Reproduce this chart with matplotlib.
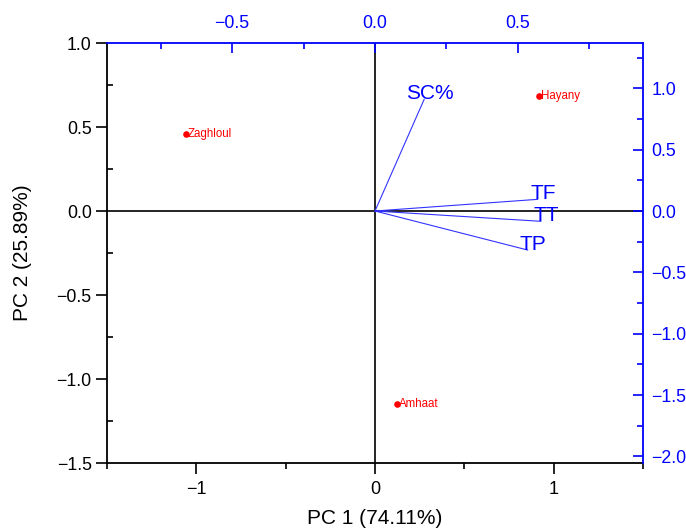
import matplotlib
matplotlib.use("Agg")
import matplotlib.pyplot as plt
from matplotlib.ticker import MultipleLocator, FixedLocator, FuncFormatter

plt.rcParams['font.family'] = ['Liberation Sans', 'DejaVu Sans']
plt.rcParams['axes.unicode_minus'] = True

# Scores (bottom/left axes)
sample_names = ["Hayany", "Zaghloul", "Amhaat"]
score_pc1 = [0.92, -1.058, 0.125]
score_pc2 = [0.685, 0.458, -1.149]

# Loadings (top/right axes)
var_names = ["SC%", "TF", "TT", "TP"]
load_pc1 = [0.172, 0.569, 0.580, 0.534]
load_pc2 = [0.910, 0.095, -0.084, -0.318]

x_label = "PC 1 (74.11%)"
y_label = "PC 2 (25.89%)"

fmt1 = FuncFormatter(lambda v, p: f"{v:.1f}".replace('-', '\u2212'))

fig = plt.figure(figsize=(6.86, 5.28), dpi=100)
pos = [107/686, 1-463/528, (643-107)/686, (463-43)/528]
ax = fig.add_axes(pos)
ax.set_xlim(-1.5, 1.5)
ax.set_ylim(-1.5, 1.0)

ax.axhline(0, color='black', lw=1.2, zorder=1)
ax.axvline(0, color='black', lw=1.2, zorder=1)

ax.scatter(score_pc1, score_pc2, s=14, color='red', zorder=3)
for n, x, y in zip(sample_names, score_pc1, score_pc2):
    ax.annotate(n, (x, y), xytext=(1.5, 0), textcoords='offset points',
                ha='left', va='center', fontsize=8.3, color='red')

ax.set_xlabel(x_label, fontsize=15, labelpad=8)
ax.set_ylabel(y_label, fontsize=15, labelpad=18)
ax.xaxis.set_major_locator(FixedLocator([-1, 0, 1]))
ax.xaxis.set_minor_locator(FixedLocator([-1.5, -0.5, 0.5, 1.5]))
ax.yaxis.set_major_locator(MultipleLocator(0.5))
ax.yaxis.set_minor_locator(MultipleLocator(0.25))
ax.yaxis.set_major_formatter(fmt1)
ax.tick_params(axis='x', which='major', direction='out', length=8, width=1.2, labelsize=13, pad=5)
ax.tick_params(axis='x', which='minor', direction='out', length=4, width=1.2)
ax.tick_params(axis='y', which='major', direction='out', length=8, width=1.2, labelsize=12.8, pad=3)
ax.tick_params(axis='y', which='minor', direction='in', length=4, width=1.2)
for s in ['left', 'bottom']:
    ax.spines[s].set_linewidth(1.3)
    ax.spines[s].set_color('black')
ax.spines['top'].set_visible(False)
ax.spines['right'].set_visible(False)

# Secondary axes for loadings
ax2 = fig.add_axes(pos)
ax2.patch.set_visible(False)
xr = 1.5 / 1.6
yr = 1.369
ax2.set_xlim(-xr, xr)
ax2.set_ylim(-1.5 * yr, 1.0 * yr)
ax2.xaxis.tick_top()
ax2.yaxis.tick_right()
ax2.xaxis.set_major_locator(MultipleLocator(0.5))
ax2.xaxis.set_minor_locator(MultipleLocator(0.25))
ax2.yaxis.set_major_locator(MultipleLocator(0.5))
ax2.yaxis.set_minor_locator(MultipleLocator(0.25))
ax2.xaxis.set_major_formatter(fmt1)
ax2.yaxis.set_major_formatter(fmt1)
ax2.tick_params(axis='both', which='major', direction='in', length=7, width=1.2,
                colors='blue', labelsize=12.8, labelcolor='blue')
ax2.tick_params(axis='both', which='minor', direction='in', length=4, width=1.2, colors='blue')
ax2.tick_params(axis='x', which='major', pad=8)
ax2.tick_params(axis='y', which='major', pad=6)
for s in ['top', 'right']:
    ax2.spines[s].set_color('blue')
    ax2.spines[s].set_linewidth(1.3)
for s in ['left', 'bottom']:
    ax2.spines[s].set_visible(False)

for n, x, y in zip(var_names, load_pc1, load_pc2):
    ax2.plot([0, x], [0, y], color='#3333ff', lw=0.8, zorder=2)
    ax2.annotate(n, (x, y), xytext=(4, 4), textcoords='offset points',
                 ha='center', va='center', fontsize=15, color='blue')

fig.savefig("out.png", dpi=100)
